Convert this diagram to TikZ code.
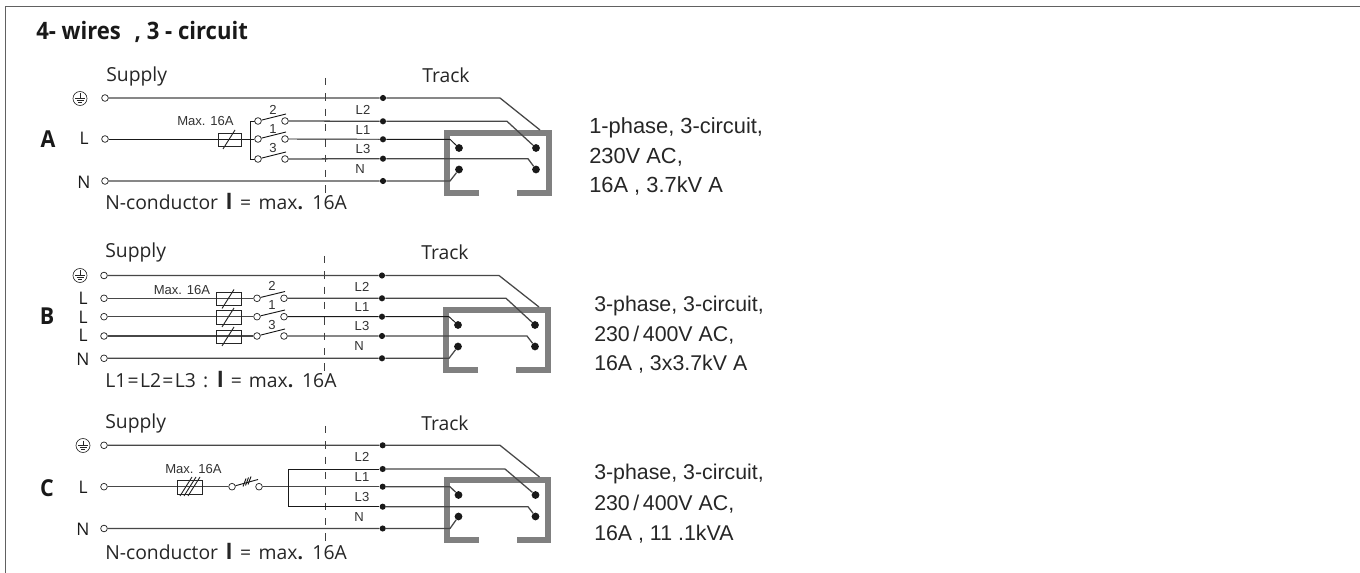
\documentclass[tikz,border=0pt]{standalone}
\usepackage{fontspec}
\setmainfont{Open Sans}
\newfontfamily\arialf{Liberation Sans}
\newfontfamily\titlef{Open Sans}[FakeStretch=0.92]
\tikzset{
 wire/.style={line width=0.95pt,draw=black!72},
 thin wire/.style={line width=0.7pt,draw=black!90},
 term/.style={circle,draw=black!85,fill=white,line width=0.55pt,minimum size=5pt,inner sep=0pt},
 jdot/.style={circle,fill=black!90,minimum size=4.6pt,inner sep=0pt},
 pin/.style={circle,fill=black!90,minimum size=5.8pt,inner sep=0pt},
 fuse/.style={draw=black!85,line width=0.7pt,fill=none},
 trackbar/.style={draw=black!50,line width=4.6pt,line cap=butt,miter limit=10},
 lab/.style={font=\fontsize{14.5}{16}\selectfont,text=black!85,inner sep=0pt},
 pole/.style={font=\fontsize{13}{15}\selectfont,text=black!90,inner sep=0pt},
 tiny/.style={font=\arialf\fontsize{9.8}{11}\selectfont,text=black!80,inner sep=0pt},
 spec/.style={font=\arialf\fontsize{16}{18}\selectfont,text=black!85,inner sep=0pt,anchor=base west},
 speca/.style={spec,font=\arialf\fontsize{16.4}{18}\selectfont},
 letter/.style={font=\titlef\bfseries\fontsize{17.5}{19}\selectfont,text=black!90,inner sep=0pt},
 dashline/.style={draw=black!75,line width=0.6pt,dash pattern=on 5.5pt off 6pt},
}
\newcommand{\earth}[2]{%
 \draw[line width=0.5pt,black!85] (#1,#2) circle[radius=7];
 \draw[line width=0.5pt,black!85] (#1,#2-5)--(#1,#2) (#1-5,#2)--(#1+5,#2) (#1-3.5,#2+2)--(#1+3.5,#2+2) (#1-1.7,#2+4)--(#1+1.7,#2+4);}
\newcommand{\nbar}{\textbf{\fontsize{16}{16}\selectfont l}}
\newcommand{\ncond}{N-conductor\hspace{2pt} \nbar\hspace{2pt} =\hspace{2pt} max\textbf{.}\hspace{2pt} 16A}
\begin{document}
\begin{tikzpicture}[x=0.75pt,y=-0.75pt]
\useasboundingbox (0,0) rectangle (1360,573);
\fill[white] (0,0) rectangle (1360,573);
\draw[line width=1pt,black!62] (5.5,573)--(5.5,6.5)--(1360,6.5);
\node[font=\titlef\bfseries\fontsize{18}{20}\selectfont,text=black!90,inner sep=0pt,anchor=base west] (title) at (36,40) {4- wires\,\, , 3 - circuit};

% ---- A ----
\node[lab,anchor=base west] (supA) at (106,82) {Supply};
\node[lab,anchor=base west] (trA) at (422,83) {Track};
\node[letter] (letA) at (48,139) {A};
\node[pole] (lA) at (84,138.5) {L};
\node[pole] (nA) at (84,182) {N};
\earth{80}{98.5}
\draw[dashline] (325,78)--(325,198);
\node[term] (a0) at (105,98) {};
\node[term] (a1) at (105,139) {};
\node[term] (a2) at (105,181) {};
\node[jdot] (da0) at (383,98) {};
\node[jdot] (da1) at (383,121.3) {};
\node[jdot] (da2) at (383,139.3) {};
\node[jdot] (da3) at (383,158.7) {};
\node[jdot] (da4) at (383,181) {};
\node[pin] (pa1) at (459,148) {};
\node[pin] (pa2) at (536,148) {};
\node[pin] (pa3) at (459,169.5) {};
\node[pin] (pa4) at (536,169.5) {};
\draw[trackbar] (479,193)--(447,193)--(447,133)--(549,133)--(549,193)--(517,193);
\coordinate (ca) at (540,130);
\draw[wire] (a0)--(da0)--(500,98)--(ca);
\draw[wire] (a2)--(da4)--(450,181)--(pa3);
\draw[thin wire] (a1)--(254,139);
\draw[fuse] (218,133) rectangle (241,146);
\draw[fuse] (223,149)--(235,130);
\node[tiny] (ma) at (205.5,121) {Max. 16A};
\draw[thin wire] (258,121)--(250,121)--(250,159)--(258,159);
\node[term] (sa1) at (258,121) {};
\node[term] (sa2) at (258,139) {};
\node[term] (sa3) at (258,159) {};
\node[term] (ra1) at (285,121) {};
\node[term] (ra2) at (285,139) {};
\node[term] (ra3) at (285,159) {};
\draw[thin wire] (sa1)--(286,114) (sa2)--(286,132) (sa3)--(286,152);
\node[tiny] at (273,110) {2};
\node[tiny] at (273,129) {1};
\node[tiny] at (273,148) {3};
\draw[wire] (ra1)--(da1)--(507,121.3)--(pa2);
\draw[thin wire] (ra2)--(da2)--(450,139.3)--(pa1);
\draw[wire] (ra3)--(da3)--(528,158.7)--(pa4);
\node[tiny] at (363,110) {L2};
\node[tiny] at (363,130) {L1};
\node[tiny] at (363,149) {L3};
\node[tiny] at (360,169) {N};
\node[lab,anchor=base west] (ncA) at (105,210) {\ncond};
\node[speca] at (589,134) {1-phase, 3-circuit,};
\node[speca] at (589,163.5) {230V AC,};
\node[speca] at (589,192.7) {16A , 3.7kV A};

% ---- B ----
\node[lab,anchor=base west] (supB) at (105,258) {Supply};
\node[lab,anchor=base west] (trB) at (421,260) {Track};
\node[letter] (letB) at (47,316) {B};
\node[pole] at (83,298) {L};
\node[pole] at (83,317) {L};
\node[pole] at (83,335.5) {L};
\node[pole] at (83,359) {N};
\earth{80}{275.5}
\draw[dashline] (324,256)--(324,372);
\node[term] (b0) at (104,275.5) {};
\node[term] (b1) at (104,298.3) {};
\node[term] (b2) at (104,316.7) {};
\node[term] (b3) at (104,336) {};
\node[term] (b4) at (104,358.3) {};
\node[jdot] (db0) at (382,275.5) {};
\node[jdot] (db1) at (382,298.3) {};
\node[jdot] (db2) at (382,316.7) {};
\node[jdot] (db3) at (382,336) {};
\node[jdot] (db4) at (382,358.3) {};
\node[pin] (pb1) at (458,325) {};
\node[pin] (pb2) at (535,325) {};
\node[pin] (pb3) at (458,346.5) {};
\node[pin] (pb4) at (535,346.5) {};
\draw[trackbar] (478,370)--(446,370)--(446,310)--(548,310)--(548,370)--(516,370);
\coordinate (cb) at (539,307);
\draw[wire] (b0)--(db0)--(499,275.5)--(cb);
\draw[wire] (b4)--(db4)--(449,358.3)--(pb3);
\node[term] (sb1) at (257,298.3) {};
\node[term] (sb2) at (257,316.7) {};
\node[term] (sb3) at (257,336) {};
\node[term] (rb1) at (284,298.3) {};
\node[term] (rb2) at (284,316.7) {};
\node[term] (rb3) at (284,336) {};
\draw[wire] (b1)--(sb1) (b2)--(sb2) (b3)--(sb3);
\draw[fuse] (216,292.5) rectangle (241,305.7);
\draw[fuse] (216,310.7) rectangle (241,324);
\draw[fuse] (216,330) rectangle (241,343);
\draw[fuse] (222,308.5)--(234,289.5) (222,327)--(234,308) (222,346)--(234,327);
\node[tiny] at (182,290) {Max. 16A};
\draw[thin wire] (sb1)--(285,291.5) (sb2)--(285,310) (sb3)--(285,329);
\node[tiny] at (272,286) {2};
\node[tiny] at (272,305) {1};
\node[tiny] at (272,325) {3};
\draw[wire] (rb1)--(db1)--(506,298.3)--(pb2);
\draw[thin wire] (rb2)--(db2)--(449,316.7)--(pb1);
\draw[wire] (rb3)--(db3)--(527,336)--(pb4);
\node[tiny] at (362,287) {L2};
\node[tiny] at (362,307) {L1};
\node[tiny] at (362,326) {L3};
\node[tiny] at (359,346) {N};
\node[lab,anchor=base west] at (105,388) {L1\hspace{1pt}=\hspace{1pt}L2\hspace{1pt}=\hspace{1pt}L3\hspace{1.6pt} :\hspace{1.6pt} \nbar\hspace{1.6pt} =\hspace{1.6pt} max\textbf{.}\hspace{1.6pt} 16A};
\node[spec] at (594,311.5) {3-phase, 3-circuit,};
\node[spec] at (594,341.5) {230\,/\,400V AC,};
\node[spec] at (594,371) {16A , 3x3.7kV A};

% ---- C ----
\node[lab,anchor=base west] (supC) at (105,429) {Supply};
\node[lab,anchor=base west] (trC) at (421,431) {Track};
\node[letter] (letC) at (47,488) {C};
\node[pole] at (83,487) {L};
\node[pole] at (83,529) {N};
\earth{83}{445.5}
\draw[dashline] (325,426)--(325,542);
\node[term] (c0) at (104,445.3) {};
\node[term] (c1) at (104,486.7) {};
\node[term] (c2) at (104,528.5) {};
\node[jdot] (dc0) at (382.7,445.3) {};
\node[jdot] (dc1) at (382.7,469) {};
\node[jdot] (dc2) at (382.7,486.7) {};
\node[jdot] (dc3) at (382.7,506.7) {};
\node[jdot] (dc4) at (382.7,528.5) {};
\node[pin] (pc1) at (458.5,495) {};
\node[pin] (pc2) at (535.5,495) {};
\node[pin] (pc3) at (458.5,516.5) {};
\node[pin] (pc4) at (535.5,516.5) {};
\draw[trackbar] (478.5,540)--(447,540)--(447,480)--(548,480)--(548,540)--(516.5,540);
\coordinate (cc) at (539.5,477);
\draw[wire] (c0)--(dc0)--(500,445.3)--(cc);
\draw[wire] (c2)--(dc4)--(450,528.5)--(pc3);
\node[term] (sc) at (232,486.7) {};
\node[term] (rc) at (259,486.7) {};
\draw[wire] (c1)--(sc);
\draw[fuse] (177,480.7) rectangle (202,494);
\draw[fuse] (180,496)--(192,477) (184,496)--(196,477) (188,496)--(200,477);
\node[tiny] at (193.5,469) {Max. 16A};
\draw[thin wire] (sc)--(258,479.5);
\draw[thin wire] (243,486.5)--(246,478.5) (245.5,485.5)--(248.5,477.5) (248,484.5)--(251,476.5);
\draw[wire] (rc)--(dc2);
\draw[wire] (dc2)--(450,486.7)--(pc1);
\draw[thin wire] (dc1)--(288,469)--(288,506.7)--(dc3);
\draw[wire] (dc1)--(505,469)--(pc2);
\draw[wire] (dc3)--(528,506.7)--(pc4);
\node[tiny] at (362,457) {L2};
\node[tiny] at (362,477) {L1};
\node[tiny] at (362,497) {L3};
\node[tiny] at (359,517) {N};
\node[lab,anchor=base west] at (105,559) {\ncond};
\node[spec] at (594,479.5) {3-phase, 3-circuit,};
\node[spec] at (594,510) {230\,/\,400V AC,};
\node[spec] at (594,540) {16A , 11 .1kV\kern-1pt A};
\end{tikzpicture}
\end{document}
